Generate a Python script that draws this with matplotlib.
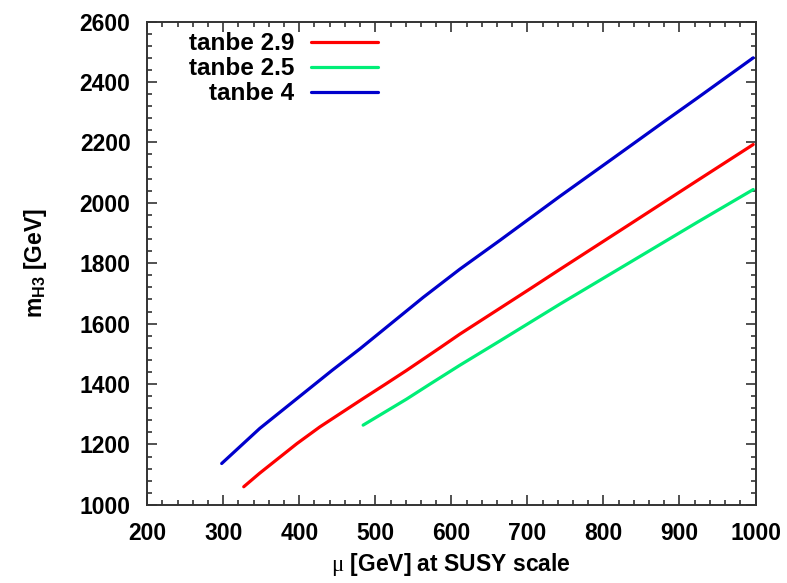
import matplotlib
matplotlib.use("Agg")
import matplotlib.pyplot as plt
from matplotlib.ticker import MultipleLocator

plt.rcParams['font.family'] = ['Liberation Sans', 'DejaVu Sans']
plt.rcParams['font.weight'] = 'bold'
plt.rcParams['mathtext.fontset'] = 'custom'
plt.rcParams['mathtext.tt'] = 'Liberation Serif:weight=normal'
plt.rcParams['mathtext.rm'] = 'Liberation Sans:bold'
plt.rcParams['mathtext.bf'] = 'Liberation Sans:bold'

# values
mu_29 = [327, 348, 397, 427, 484, 513, 541, 585, 611, 664, 704, 743, 831, 923, 997]
mh_29 = [1060, 1105, 1203, 1258, 1352, 1399, 1445, 1520, 1565, 1651, 1716, 1780, 1923, 2073, 2193]

mu_25 = [484, 541, 572, 611, 664, 743, 831, 923, 997]
mh_25 = [1264, 1350, 1400, 1462, 1543, 1665, 1797, 1935, 2044]

mu_4 = [298, 348, 397, 443, 480, 502, 563, 611, 664, 743, 813, 881, 923, 997]
mh_4 = [1137, 1253, 1352, 1445, 1517, 1562, 1687, 1780, 1876, 2022, 2148, 2271, 2346, 2480]

labels = ['tanbe 2.9', 'tanbe 2.5', 'tanbe 4']
colors = ['#ff0000', '#00ee77', '#0000cc']

fig = plt.figure(figsize=(7.87, 5.83), dpi=100)
ax = fig.add_axes([0.187, 0.134, 0.773, 0.829])

for (x, y), lab, c in zip([(mu_29, mh_29), (mu_25, mh_25), (mu_4, mh_4)], labels, colors):
    ax.plot(x, y, color=c, lw=2.3, label=lab, solid_capstyle='round')

ax.set_xlim(200, 1000)
ax.set_ylim(1000, 2600)
ax.xaxis.set_major_locator(MultipleLocator(100))
ax.xaxis.set_minor_locator(MultipleLocator(20))
ax.yaxis.set_major_locator(MultipleLocator(200))
ax.yaxis.set_minor_locator(MultipleLocator(40))
ax.tick_params(which='both', direction='in', top=True, right=True, width=1.2,
               color='#333333', labelsize=16.5, pad=12)
ax.tick_params(which='major', length=7)
ax.tick_params(which='minor', length=3.5)
for s in ax.spines.values():
    s.set_linewidth(1.4)
    s.set_color('#333333')

ax.set_xlabel(r'$\mathtt{\mu}$ [GeV] at SUSY scale', fontsize=16.5,
              fontweight='bold', labelpad=5)
ax.set_ylabel(r'm$_{\mathbf{H3}}$ [GeV]', fontsize=16.5,
              fontweight='bold', labelpad=22)

ax.legend(loc='upper left', bbox_to_anchor=(0.068, 0.978), frameon=False,
          markerfirst=False, fontsize=17.5, handlelength=2.75, handletextpad=0.72,
          labelspacing=0.08, borderpad=0, borderaxespad=0)

fig.savefig('out.png', dpi=100)
